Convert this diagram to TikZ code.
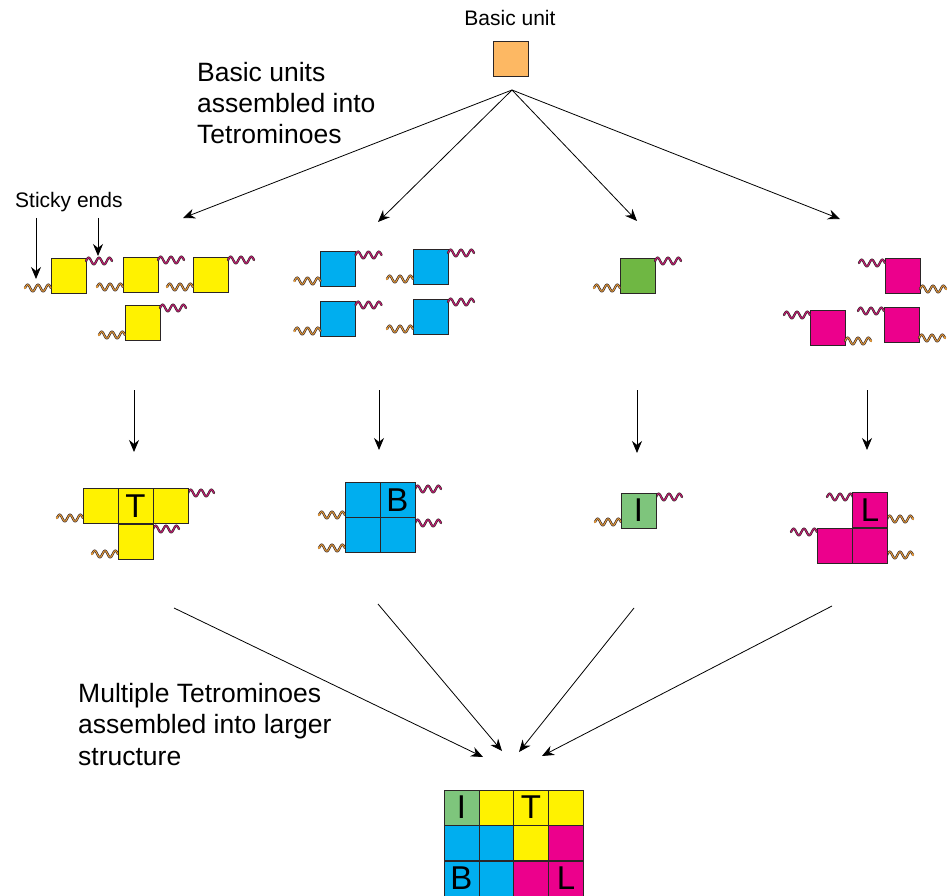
\documentclass[tikz,border=0pt]{standalone}
\usepackage{fontspec}
\setmainfont{Liberation Sans}
\usetikzlibrary{arrows.meta}
\definecolor{cyel}{HTML}{FFF200}
\definecolor{cblue}{HTML}{00AEEF}
\definecolor{cmag}{HTML}{EC008C}
\definecolor{cgreen}{HTML}{6FB743}
\definecolor{clgreen}{HTML}{7EC57C}
\definecolor{corange}{HTML}{FDB863}
\definecolor{cline}{HTML}{2B2526}
\definecolor{wdark}{HTML}{3A2B2B}
\definecolor{wmag}{HTML}{D0157A}
\definecolor{wor}{HTML}{F2A33A}
\tikzset{
  sq/.style={draw=cline, line width=0.9pt, minimum size=35pt, inner sep=0pt, font=\fontsize{33}{33}\selectfont},
  arr/.style={draw=black, line width=0.8pt, -{Stealth[length=12pt,width=10pt]}},
  lbl/.style={inner sep=0pt, anchor=base west, font=\fontsize{26.5}{31}\selectfont},
  slbl/.style={inner sep=0pt, font=\fontsize{21}{25}\selectfont},
  pics/magwave/.style={code={
    \draw[wdark, line width=2.3pt, line cap=round] plot[domain=0:26, samples=40, smooth] (\x,{-3.3*sin(\x*34.6154)});
    \draw[wmag, line width=0.9pt, line cap=round] plot[domain=0:26, samples=40, smooth] (\x,{-3.3*sin(\x*34.6154)});
  }},
  pics/orwave/.style={code={
    \draw[wdark, line width=2.3pt, line cap=round] plot[domain=0:26, samples=40, smooth] (\x,{-3.3*sin(\x*34.6154)});
    \draw[wor, line width=0.9pt, line cap=round] plot[domain=0:26, samples=40, smooth] (\x,{-3.3*sin(\x*34.6154)});
    \fill[wor] (26,0) circle (1.2pt);
  }},
}
\begin{document}
\begin{tikzpicture}[x=1pt,y=-1pt]
\useasboundingbox (0,0) rectangle (951,896);

% texts
\node[slbl, anchor=base] (tbasic) at (510,26) {Basic unit};
\node[slbl, anchor=base west] (tsticky) at (15,207.5) {Sticky ends};
\node[lbl] (ta1) at (197,82) {Basic units};
\node[lbl] (ta2) at (197,113) {assembled into};
\node[lbl] (ta3) at (197,144) {Tetrominoes};
\node[lbl] (tb1) at (78,702) {Multiple Tetrominoes};
\node[lbl] (tb2) at (78,733.5) {assembled into larger};
\node[lbl] (tb3) at (78,765) {structure};

% basic unit
\node[sq, fill=corange] (basic) at (510.5,59) {};
\coordinate (hub) at (512,90);
\coordinate (h1) at (183,218);
\coordinate (h2) at (378,222);
\coordinate (h3) at (637,221);
\coordinate (h4) at (840,219);
\draw[arr] (hub) -- (h1);
\draw[arr] (hub) -- (h2);
\draw[arr] (hub) -- (h3);
\draw[arr] (hub) -- (h4);

% sticky end arrows
\coordinate (s1a) at (36,218);
\coordinate (s1b) at (36,279);
\coordinate (s2a) at (98,218);
\coordinate (s2b) at (98,256);
\draw[arr] (s1a) -- (s1b);
\draw[arr] (s2a) -- (s2b);

% yellow units
\node[sq, fill=cyel] (y1) at (68.5,276) {};
\node[sq, fill=cyel] (y2) at (140.5,274.5) {};
\node[sq, fill=cyel] (y3) at (210.5,274.5) {};
\node[sq, fill=cyel] (y4) at (142.5,323) {};
\pic[xscale=-1] at (51,288) {orwave};
\pic at (86,261) {magwave};
\pic[xscale=-1] at (123,287) {orwave};
\pic at (158,260) {magwave};
\pic[xscale=-1] at (193,287) {orwave};
\pic at (228,260) {magwave};
\pic[xscale=-1] at (125,335) {orwave};
\pic at (160,308) {magwave};

% blue units
\node[sq, fill=cblue] (b1) at (338,269) {};
\node[sq, fill=cblue] (b2) at (430.5,267) {};
\node[sq, fill=cblue] (b3) at (338,319) {};
\node[sq, fill=cblue] (b4) at (430.5,316.5) {};
\pic[xscale=-1] at (320.5,281) {orwave};
\pic at (355.5,255) {magwave};
\pic[xscale=-1] at (413,279) {orwave};
\pic at (448,253) {magwave};
\pic[xscale=-1] at (320.5,331) {orwave};
\pic at (355.5,305) {magwave};
\pic[xscale=-1] at (413,329) {orwave};
\pic at (448,302) {magwave};

% green unit
\node[sq, fill=cgreen] (g1) at (637.5,276) {};
\pic[xscale=-1] at (620,288) {orwave};
\pic at (655,261) {magwave};

% magenta units
\node[sq, fill=cmag] (m1) at (902.5,276) {};
\node[sq, fill=cmag] (m2) at (827.5,328) {};
\node[sq, fill=cmag] (m3) at (901.5,325) {};
\pic[xscale=-1] at (885,263) {magwave};
\pic at (920,289) {orwave};
\pic[xscale=-1] at (810,315) {magwave};
\pic at (845,341) {orwave};
\pic[xscale=-1] at (884,311) {magwave};
\pic at (919,338) {orwave};

% down arrows
\coordinate (d1a) at (134,390); \coordinate (d1b) at (134,452);
\coordinate (d2a) at (379,390); \coordinate (d2b) at (379,450);
\coordinate (d3a) at (637,390); \coordinate (d3b) at (637,453);
\coordinate (d4a) at (867,390); \coordinate (d4b) at (867,450);
\draw[arr] (d1a) -- (d1b);
\draw[arr] (d2a) -- (d2b);
\draw[arr] (d3a) -- (d3b);
\draw[arr] (d4a) -- (d4b);

% T tetromino
\pic[xscale=-1] at (83,518) {orwave};
\pic at (188,493) {magwave};
\pic at (153,529) {magwave};
\pic[xscale=-1] at (118,554) {orwave};
\node[sq, fill=cyel] (T1) at (100.5,506) {};
\node[sq, fill=cyel] (T2) at (135.5,506) {T};
\node[sq, fill=cyel] (T3) at (170.5,506) {};
\node[sq, fill=cyel] (T4) at (135.5,541.5) {};

% B tetromino
\pic[xscale=-1] at (345,515) {orwave};
\pic[xscale=-1] at (345,548) {orwave};
\pic at (415,489) {magwave};
\pic at (415,523) {magwave};
\node[sq, fill=cblue] (B1) at (362.5,499.75) {};
\node[sq, fill=cblue] (B2) at (397.5,499.75) {B};
\node[sq, fill=cblue] (B3) at (362.5,535.25) {};
\node[sq, fill=cblue] (B4) at (397.5,535.25) {};

% I
\pic[xscale=-1] at (621,522) {orwave};
\pic at (656,497) {magwave};
\node[sq, fill=clgreen] (I1) at (638.5,510.5) {I};

% L tetromino
\pic[xscale=-1] at (853,497) {magwave};
\pic[xscale=-1] at (817,532) {magwave};
\pic at (887,519) {orwave};
\pic at (887,555) {orwave};
\node[sq, fill=cmag] (L1) at (870,510) {L};
\node[sq, fill=cmag] (L2) at (835,545.5) {};
\node[sq, fill=cmag] (L3) at (870,545.5) {};

% bottom arrows
\coordinate (e1a) at (174,608); \coordinate (e1b) at (483,757);
\coordinate (e2a) at (378,604); \coordinate (e2b) at (502,751);
\coordinate (e3a) at (634,608); \coordinate (e3b) at (519,752);
\coordinate (e4a) at (832,606); \coordinate (e4b) at (542,756);
\draw[arr] (e1a) -- (e1b);
\draw[arr] (e2a) -- (e2b);
\draw[arr] (e3a) -- (e3b);
\draw[arr] (e4a) -- (e4b);

% final structure
\node[sq, fill=clgreen] (G11) at (461.5,807.5) {I};
\node[sq, fill=cyel] (G12) at (496.5,807.5) {};
\node[sq, fill=cyel] (G13) at (531,807.5) {T};
\node[sq, fill=cyel] (G14) at (566,807.5) {};
\node[sq, fill=cblue] (G21) at (461.5,843) {};
\node[sq, fill=cblue] (G22) at (496.5,843) {};
\node[sq, fill=cyel] (G23) at (531,843) {};
\node[sq, fill=cmag] (G24) at (566,843) {};
\node[sq, fill=cblue] (G31) at (461.5,878.5) {B};
\node[sq, fill=cblue] (G32) at (496.5,878.5) {};
\node[sq, fill=cmag] (G33) at (531,878.5) {};
\node[sq, fill=cmag] (G34) at (566,878.5) {L};
\end{tikzpicture}
\end{document}
